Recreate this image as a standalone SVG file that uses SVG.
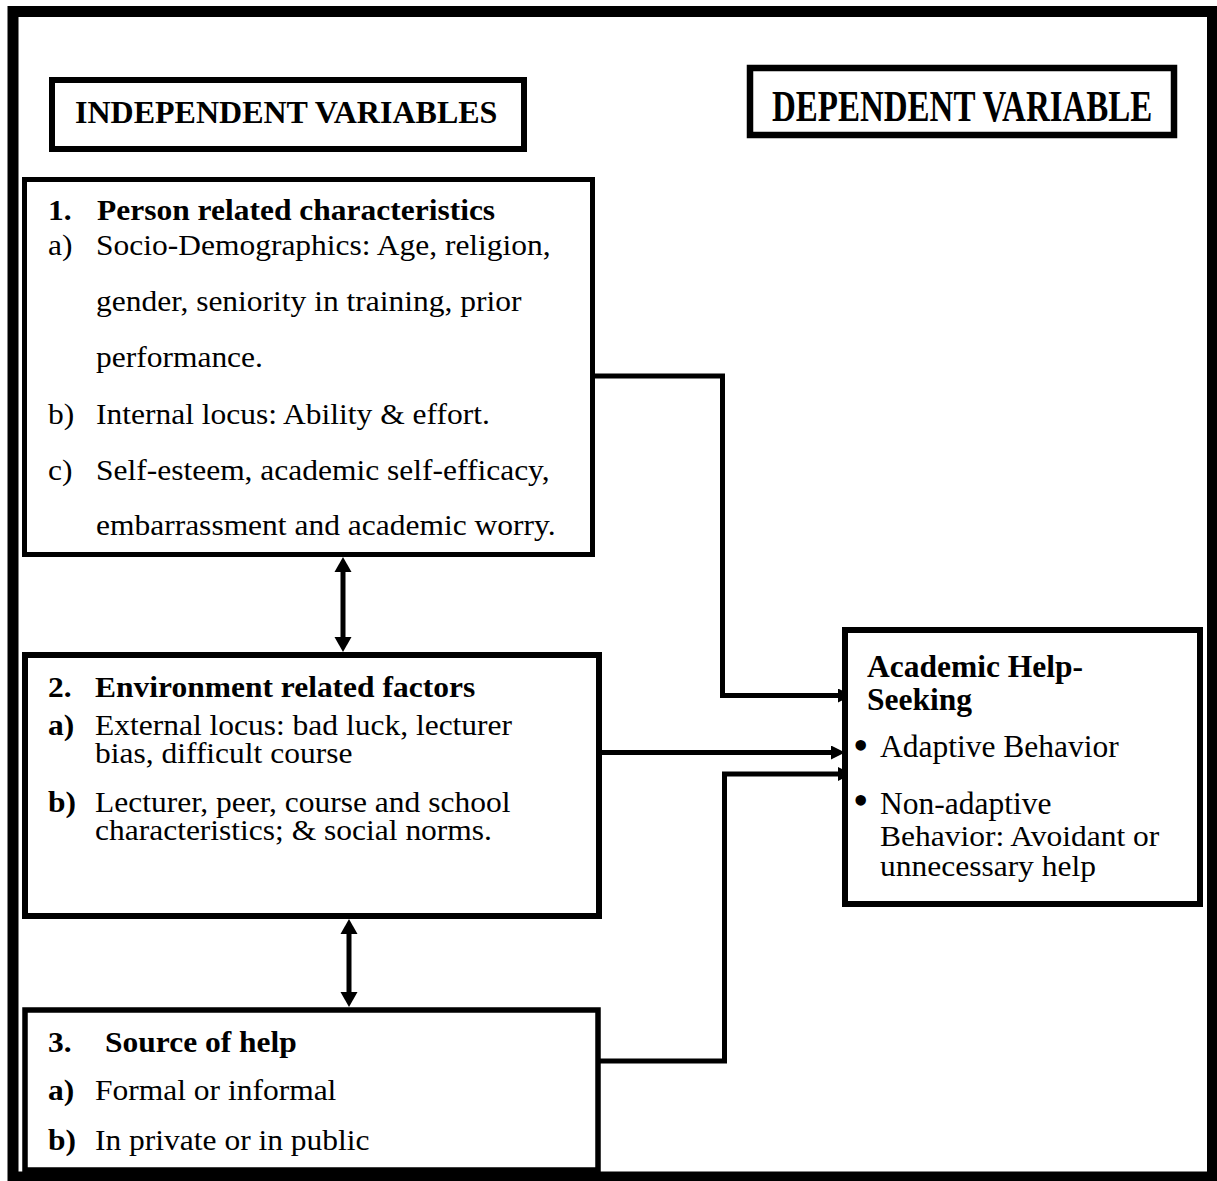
<svg xmlns="http://www.w3.org/2000/svg" width="1217" height="1181" viewBox="0 0 1217 1181">
<style>
text{font-family:"Liberation Serif","Times New Roman",serif;fill:#000;font-size:31.5px}
.b{font-weight:bold}
.hd{font-weight:bold;font-size:32px}
.bu{font-size:44px}
.box{fill:#fff;stroke:#000}
.ln{fill:none;stroke:#000;stroke-width:5;stroke-linejoin:miter}
</style>
<defs>
<marker id="ah" markerUnits="userSpaceOnUse" markerWidth="14" markerHeight="14" refX="4" refY="7" orient="auto"><path d="M0,0 L14,7 L0,14 z" fill="#000"/></marker>
<marker id="dh" markerUnits="userSpaceOnUse" markerWidth="16" markerHeight="18" refX="5" refY="9" orient="auto-start-reverse"><path d="M0,0.5 L15,9 L0,17.5 z" fill="#000"/></marker>
</defs>
<rect x="13" y="11.5" width="1199.5" height="1165.5" fill="#fff" stroke="#000" stroke-width="11"/>
<g id="indep-header">
<rect class="box" x="52" y="80" width="472" height="69" stroke-width="6"/>
<text class="hd" x="75" y="123">INDEPENDENT VARIABLES</text>
</g>
<g id="dep-header">
<rect class="box" x="750" y="68" width="424" height="67" stroke-width="6.5"/>
<text class="hd" transform="translate(772,121) scale(1,1.37)" style="font-size:33px">DEPENDENT VARIABLE</text>
</g>
<g id="connectors">
<polyline class="ln" points="593,376 722.5,376 722.5,695.5 842,695.5" marker-end="url(#ah)"/>
<polyline class="ln" points="600,752.5 835,752.5" marker-end="url(#ah)"/>
<polyline class="ln" points="599,1061 724.5,1061 724.5,774 842,774" marker-end="url(#ah)"/>
<line class="ln" x1="343" y1="567" x2="343" y2="642" stroke-width="4.5" marker-start="url(#dh)" marker-end="url(#dh)"/>
<line class="ln" x1="349" y1="929" x2="349" y2="997" stroke-width="4.5" marker-start="url(#dh)" marker-end="url(#dh)"/>
</g>
<g id="person">
<rect class="box" x="24.5" y="179.5" width="568" height="375" stroke-width="5"/>
<g transform="translate(0,220) scale(1,0.93)"><text class="b" x="48" y="0">1.</text><text class="b" x="97" y="0">Person related characteristics</text></g>
<g transform="translate(0,255) scale(1,0.93)"><text x="48" y="0">a)</text><text x="96" y="0">Socio-Demographics: Age, religion,</text></g>
<g transform="translate(0,311) scale(1,0.93)"><text x="96" y="0">gender, seniority in training, prior</text></g>
<g transform="translate(0,367) scale(1,0.93)"><text x="96" y="0">performance.</text></g>
<g transform="translate(0,424) scale(1,0.93)"><text x="48" y="0">b)</text><text x="96" y="0">Internal locus: Ability &amp; effort.</text></g>
<g transform="translate(0,480) scale(1,0.93)"><text x="48" y="0">c)</text><text x="96" y="0">Self-esteem, academic self-efficacy,</text></g>
<g transform="translate(0,535) scale(1,0.93)"><text x="96" y="0">embarrassment and academic worry.</text></g>
</g>
<g id="environment">
<rect class="box" x="25" y="655" width="574" height="261" stroke-width="6"/>
<g transform="translate(0,697) scale(1,0.93)"><text class="b" x="48" y="0">2.</text><text class="b" x="95" y="0">Environment related factors</text></g>
<g transform="translate(0,735) scale(1,0.93)"><text class="b" x="48" y="0">a)</text><text x="95" y="0">External locus: bad luck, lecturer</text></g>
<g transform="translate(0,763) scale(1,0.93)"><text x="95" y="0">bias, difficult course</text></g>
<g transform="translate(0,812) scale(1,0.93)"><text class="b" x="48" y="0">b)</text><text x="95" y="0">Lecturer, peer, course and school</text></g>
<g transform="translate(0,840) scale(1,0.93)"><text x="95" y="0">characteristics; &amp; social norms.</text></g>
</g>
<g id="source">
<rect class="box" x="25" y="1010" width="573" height="160" stroke-width="5.5"/>
<g transform="translate(0,1052) scale(1,0.93)"><text class="b" x="48" y="0">3.</text><text class="b" x="105" y="0">Source of help</text></g>
<g transform="translate(0,1100) scale(1,0.93)"><text class="b" x="48" y="0">a)</text><text x="95" y="0">Formal or informal</text></g>
<g transform="translate(0,1150) scale(1,0.93)"><text class="b" x="48" y="0">b)</text><text x="95" y="0">In private or in public</text></g>
</g>
<g id="help-seeking">
<rect class="box" x="845" y="630" width="355" height="274" stroke-width="6"/>
<text class="b" x="867" y="677">Academic Help-</text>
<text class="b" x="867" y="710">Seeking</text>
<text class="bu" x="853" y="760">•</text><text x="880" y="757">Adaptive Behavior</text>
<text class="bu" x="853" y="815">•</text><text x="880" y="814">Non-adaptive</text>
<g transform="translate(0,846) scale(1,0.93)"><text x="880" y="0">Behavior: Avoidant or</text></g>
<g transform="translate(0,876) scale(1,0.93)"><text x="880" y="0">unnecessary help</text></g>
</g>
</svg>
